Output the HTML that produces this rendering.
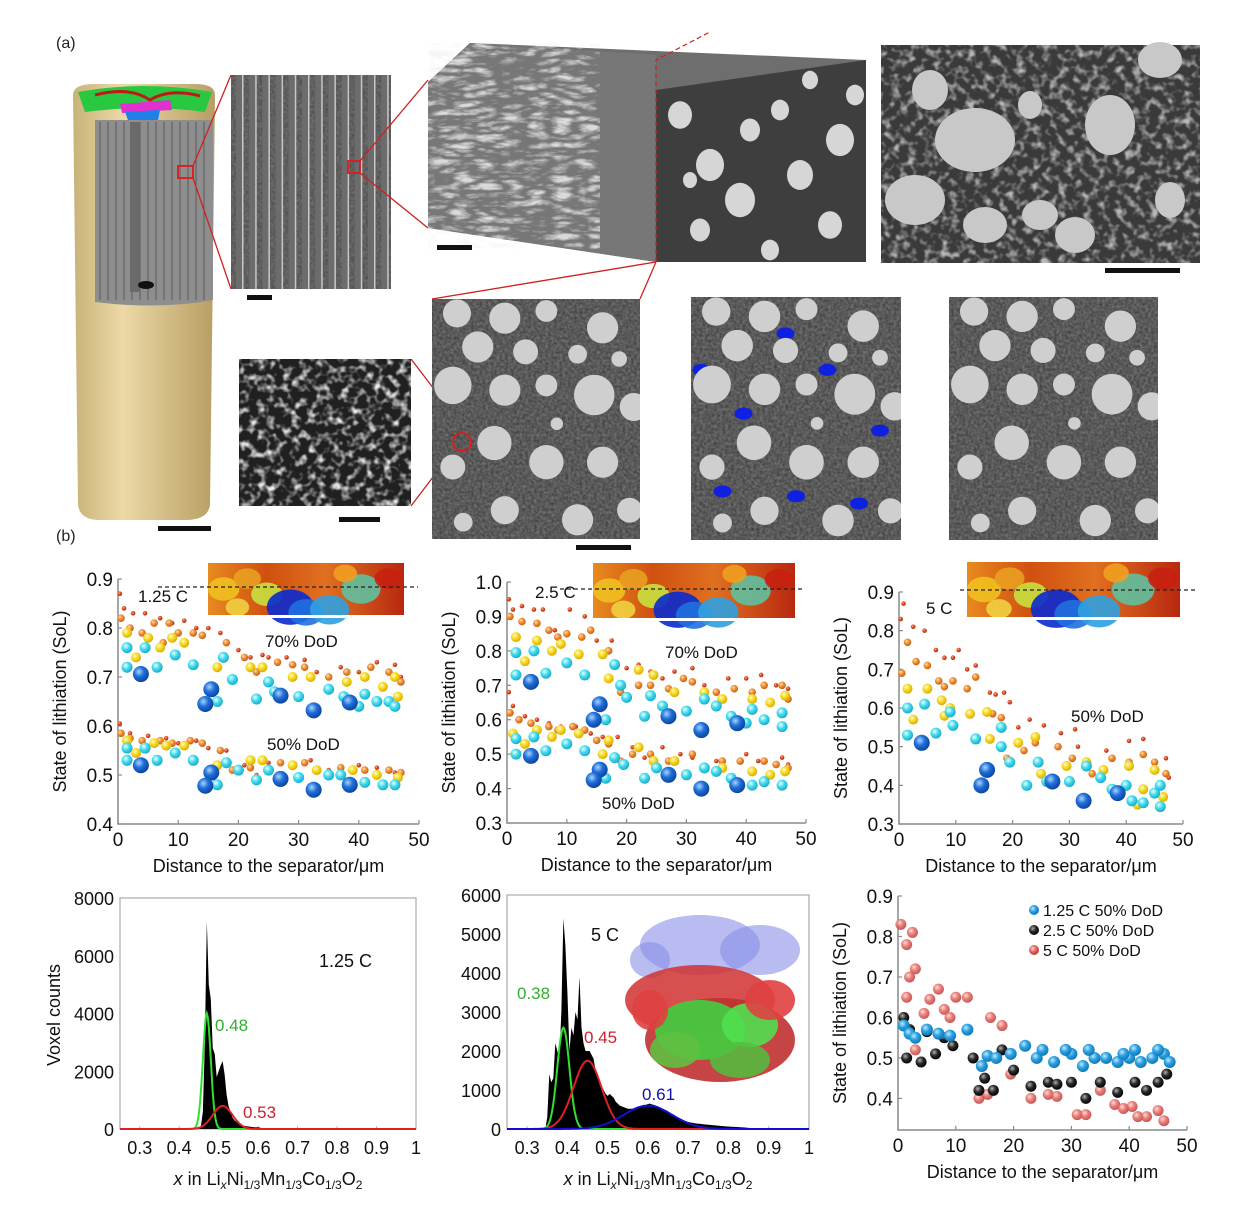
<!DOCTYPE html>
<html><head><meta charset="utf-8">
<style>
html,body{margin:0;padding:0;background:#fff;}
svg{display:block;font-family:"Liberation Sans",Arial,sans-serif;}
</style></head>
<body>
<svg id="fig" width="1237" height="1229" viewBox="0 0 1237 1229" xmlns="http://www.w3.org/2000/svg">
<defs>
  <filter id="noiseF" x="0" y="0" width="100%" height="100%">
    <feTurbulence type="fractalNoise" baseFrequency="0.35" numOctaves="2" seed="3"/>
    <feColorMatrix type="matrix" values="0 0 0 0 0.35  0 0 0 0 0.35  0 0 0 0 0.35  1.2 0 0 0 -0.1"/>
  </filter>
  <filter id="poreF" x="0" y="0" width="100%" height="100%">
    <feTurbulence type="fractalNoise" baseFrequency="0.12" numOctaves="2" seed="7"/>
    <feColorMatrix type="matrix" values="0 0 0 0 0.85  0 0 0 0 0.85  0 0 0 0 0.85  3 0 0 0 -1.4"/>
  </filter>
  <filter id="fiberF" x="0" y="0" width="100%" height="100%">
    <feTurbulence type="turbulence" baseFrequency="0.04 0.12" numOctaves="3" seed="11"/>
    <feColorMatrix type="matrix" values="0 0 0 0 0.9  0 0 0 0 0.9  0 0 0 0 0.9  2.2 0 0 0 -0.5"/>
  </filter>
  <linearGradient id="tan" x1="0" x2="1" y1="0" y2="0">
    <stop offset="0" stop-color="#c9b27a"/><stop offset="0.35" stop-color="#ecd9a6"/><stop offset="1" stop-color="#b79e63"/>
  </linearGradient>
  <linearGradient id="heat" x1="0" x2="1">
    <stop offset="0" stop-color="#e88a20"/><stop offset="0.3" stop-color="#d05010"/><stop offset="0.6" stop-color="#e07020"/><stop offset="1" stop-color="#b82810"/>
  </linearGradient>
</defs>
</svg>
<script>
// ---------------- chart data ----------------
const c1aBlue=[[3.8,0.706],[15.5,0.675],[14.5,0.645],[27,0.662],[32.5,0.632],[38.5,0.648]];
const c1aCyan=[[1.5,0.76],[1.5,0.72],[4.5,0.76],[6.5,0.72],[9.5,0.745],[12.5,0.725],[16.5,0.65],[17.5,0.74],[19,0.695],[23,0.655],[25,0.69],[26,0.67],[30,0.66],[35,0.675],[37.5,0.66],[40,0.64],[41,0.665],[43,0.65],[45,0.65],[46,0.64]];
const c1aYellow=[[1.5,0.79],[3,0.74],[5,0.78],[7,0.76],[9,0.78],[11,0.77],[16.5,0.72],[22,0.72],[24,0.72],[29,0.70],[32,0.70],[38,0.69],[41,0.70],[44,0.68],[46.5,0.66],[46,0.70]];
const c1aOrange=[[0.5,0.82],[2,0.80],[4,0.79],[6,0.81],[7.5,0.77],[8.5,0.81],[10,0.79],[12.5,0.79],[14,0.785],[18,0.77],[21,0.74],[23,0.71],[26.5,0.73],[29,0.725],[31,0.72],[35,0.70],[38,0.71],[42,0.72],[45,0.71],[47,0.69]];
const c1aRed=[[0.3,0.87],[1,0.84],[2.5,0.83],[4.5,0.83],[7,0.82],[9,0.81],[11,0.815],[13,0.80],[15,0.80],[17,0.79],[20,0.755],[22,0.74],[24,0.745],[25,0.74],[28,0.74],[31,0.735],[33,0.71],[37,0.72],[40,0.71],[43,0.73],[46,0.725],[47,0.70]];
const c1bBlue=[[3.8,0.52],[15.5,0.505],[14.5,0.478],[27,0.492],[32.5,0.47],[38.5,0.48]];
const c1bCyan=[[1.5,0.53],[1.5,0.555],[4.5,0.555],[6.5,0.53],[9.5,0.545],[12.5,0.53],[16.5,0.48],[18,0.525],[20,0.51],[23,0.49],[25,0.51],[30,0.495],[35,0.50],[37,0.50],[41,0.485],[44,0.48],[46,0.48]];
const c1bYellow=[[1.5,0.57],[3,0.545],[6,0.565],[8,0.56],[11,0.56],[16.5,0.52],[22,0.53],[24,0.53],[29,0.52],[33,0.51],[39,0.51],[43,0.50],[46.5,0.495]];
const c1bOrange=[[0.5,0.585],[2,0.575],[4,0.57],[7,0.57],[9,0.565],[12,0.57],[14,0.565],[17,0.55],[19,0.51],[22,0.515],[27,0.525],[31,0.525],[37,0.515],[41,0.51],[45,0.51],[47,0.505]];
const c1bRed=[[0.3,0.605],[2,0.585],[5,0.58],[8,0.575],[10,0.565],[13,0.57],[15,0.555],[18,0.55],[21,0.52],[23,0.50],[25,0.525],[29,0.525],[32,0.53],[35,0.51],[40,0.52],[43,0.515],[46,0.505]];
const c2aBlue=[[4,0.71],[15.5,0.645],[14.5,0.60],[27,0.61],[32.5,0.57],[38.5,0.59]];
const c2aCyan=[[1.5,0.795],[1.5,0.73],[4.5,0.80],[6.5,0.735],[10,0.765],[13,0.73],[16.5,0.60],[18,0.76],[19,0.70],[20,0.665],[23,0.61],[24,0.67],[26,0.64],[30,0.625],[33,0.66],[35,0.64],[37.5,0.61],[40,0.59],[41,0.63],[43,0.60],[46,0.58],[46,0.62]];
const c2aYellow=[[1.5,0.84],[3,0.77],[5,0.83],[7.5,0.80],[9,0.82],[12,0.79],[16,0.79],[17,0.72],[22,0.745],[24.5,0.73],[28,0.68],[33,0.68],[36,0.66],[41,0.66],[44,0.65],[46.5,0.67]];
const c2aOrange=[[0.5,0.90],[2.5,0.885],[5,0.88],[7,0.86],[8.5,0.84],[10,0.85],[12.5,0.84],[14,0.86],[17,0.80],[19,0.68],[22,0.70],[24,0.70],[27,0.69],[29.5,0.72],[31,0.71],[35,0.68],[38,0.69],[41,0.68],[43,0.70],[46,0.70],[47,0.66]];
const c2aRed=[[0.3,0.95],[1,0.92],[2.5,0.93],[4.5,0.92],[6,0.92],[8,0.86],[10.5,0.92],[13,0.90],[15,0.83],[17.5,0.83],[20,0.75],[22,0.76],[24,0.74],[26,0.72],[28,0.74],[31,0.75],[33,0.70],[37,0.72],[40,0.72],[42.5,0.73],[45,0.70],[47,0.69]];
const c2bBlue=[[4,0.495],[15.5,0.455],[14.5,0.425],[27,0.44],[32.5,0.40],[38.5,0.41]];
const c2bCyan=[[1.5,0.50],[1.5,0.545],[4.5,0.55],[6.5,0.51],[10,0.53],[13,0.51],[16.5,0.43],[18,0.49],[19.5,0.47],[23,0.43],[25,0.46],[30,0.44],[33,0.46],[35,0.45],[37.5,0.43],[41,0.41],[43,0.42],[46,0.41]];
const c2bYellow=[[1,0.56],[3,0.53],[5,0.57],[7.5,0.55],[9,0.57],[12,0.56],[16,0.50],[17,0.54],[22,0.52],[24.5,0.48],[28,0.48],[33,0.46],[36,0.46],[41,0.45],[44,0.44],[46.5,0.45]];
const c2bOrange=[[0.5,0.62],[2,0.60],[4,0.59],[7,0.58],[8.5,0.57],[11,0.58],[13,0.57],[15,0.54],[17,0.53],[19,0.48],[21,0.50],[24,0.50],[27,0.48],[31,0.50],[36,0.48],[39,0.48],[43,0.48],[45,0.47],[47,0.46]];
const c2bRed=[[0.3,0.68],[1,0.64],[3,0.61],[5,0.60],[7,0.59],[9,0.58],[11.5,0.58],[14,0.56],[16,0.55],[18.5,0.55],[21,0.52],[23,0.49],[26,0.52],[29,0.50],[31,0.49],[35,0.48],[40,0.50],[42,0.48],[46,0.49],[47,0.47]];
const c3Blue=[[4,0.51],[15.5,0.44],[14.5,0.40],[27,0.41],[32.5,0.36],[38.5,0.38]];
const c3Cyan=[[1.5,0.60],[1.5,0.53],[4.5,0.61],[6.5,0.535],[9,0.59],[9.5,0.555],[13.5,0.52],[18,0.55],[18,0.50],[19.5,0.46],[22.5,0.40],[24.5,0.46],[26,0.41],[30,0.41],[33,0.45],[35.5,0.42],[37.5,0.39],[40,0.40],[41,0.36],[43,0.355],[45,0.38],[46,0.345],[46,0.40]];
const c3Yellow=[[1.5,0.65],[2.5,0.57],[5,0.65],[7.5,0.62],[8,0.58],[9,0.60],[12.5,0.585],[15.5,0.59],[16,0.52],[21,0.51],[24,0.525],[25,0.43],[29.5,0.45],[33,0.46],[36,0.44],[39,0.38],[40.5,0.45],[42,0.35],[43,0.39],[45,0.44],[46.5,0.37]];
const c3Orange=[[0.5,0.69],[1.5,0.77],[3,0.72],[5,0.71],[7,0.67],[8,0.655],[9.5,0.67],[12,0.65],[13.5,0.68],[16.5,0.585],[18,0.575],[19,0.47],[22,0.49],[24,0.51],[28,0.50],[30.5,0.47],[34,0.43],[37.5,0.47],[40.5,0.46],[43,0.48],[45,0.46],[47,0.43],[46.5,0.37]];
const c3Red=[[0.3,0.83],[0.8,0.87],[2.5,0.81],[4.5,0.80],[6.5,0.75],[8,0.73],[9.5,0.73],[10.5,0.75],[12,0.70],[13.5,0.71],[16,0.64],[17,0.635],[18.5,0.64],[19.5,0.615],[21,0.55],[23,0.57],[25.5,0.555],[28.5,0.535],[31,0.545],[31.5,0.50],[36.5,0.49],[40.5,0.515],[43,0.52],[47,0.47],[47.5,0.42]];
const c6Blue=[[1,0.58],[2,0.56],[3,0.55],[5,0.57],[7,0.56],[9,0.555],[12,0.57],[14.5,0.48],[15.5,0.505],[17,0.50],[19.5,0.51],[22,0.53],[24,0.50],[27,0.49],[30,0.51],[32,0.48],[34,0.50],[36,0.50],[38,0.49],[40,0.50],[42,0.49],[44,0.50],[46,0.51],[47,0.49],[25,0.52],[29,0.52],[33,0.52],[39,0.51],[45,0.52],[41,0.52]];
const c6Black=[[1,0.60],[1.5,0.50],[2,0.57],[4,0.49],[5,0.565],[6.5,0.51],[8,0.55],[9.5,0.53],[13,0.50],[14,0.42],[15,0.45],[16.5,0.42],[18,0.52],[20,0.47],[23,0.43],[26,0.44],[27.5,0.435],[30,0.44],[32.5,0.40],[35,0.44],[38,0.415],[41,0.44],[43,0.42],[45,0.44],[46.5,0.46]];
const c6Red=[[0.5,0.83],[1.5,0.78],[2.5,0.81],[3,0.72],[4.5,0.61],[5.5,0.645],[7,0.67],[8,0.62],[9,0.60],[10,0.65],[12,0.65],[14,0.40],[15.5,0.41],[16,0.60],[18,0.58],[19.5,0.46],[23,0.40],[26,0.41],[27.5,0.405],[31,0.36],[32.5,0.36],[35,0.42],[37.5,0.385],[39,0.375],[40.5,0.38],[41.5,0.355],[43,0.355],[45,0.37],[46,0.345],[1.5,0.65],[3,0.52],[2,0.70]];
const distTicks=[0,10,20,30,40,50];
const sol1Ticks=[0.4,0.5,0.6,0.7,0.8,0.9];
const sol2Ticks=[0.3,0.4,0.5,0.6,0.7,0.8,0.9,1.0];
const sol3Ticks=[0.3,0.4,0.5,0.6,0.7,0.8,0.9];
const sol6Ticks=[0.4,0.5,0.6,0.7,0.8,0.9];
const h4X=[0.45,0.455,0.46,0.465,0.47,0.475,0.48,0.485,0.49,0.495,0.50,0.505,0.51,0.515,0.52,0.525,0.53,0.535,0.54,0.545,0.55,0.555,0.56,0.57,0.58,0.59,0.60,0.61,0.62];
const h4Y=[0,100,600,3000,7200,5000,4500,2800,2600,1800,2000,2200,2350,1900,1200,800,600,400,300,250,200,150,120,100,80,60,60,30,0];
const fit4Center=[0.47,0.51];
const fit4Amp=[4000,800];
const fit4Sigma=[0.01,0.025];
const h5X=[0.345,0.35,0.355,0.36,0.365,0.37,0.375,0.38,0.385,0.39,0.395,0.40,0.405,0.41,0.415,0.42,0.425,0.43,0.435,0.44,0.445,0.45,0.455,0.46,0.465,0.47,0.475,0.48,0.485,0.49,0.495,0.50,0.505,0.51,0.515,0.52,0.525,0.53,0.535,0.54,0.545,0.55,0.555,0.56,0.565,0.57,0.575,0.58,0.585,0.59,0.595,0.60,0.605,0.61,0.615,0.62,0.625,0.63,0.635,0.64,0.645,0.65,0.655,0.66,0.665,0.67,0.675,0.68,0.685,0.69,0.695,0.70,0.71,0.72,0.73,0.74,0.75,0.76,0.77,0.78,0.79,0.80,0.82,0.84,0.86,0.87];
const h5Y=[0,300,1400,1200,1300,2200,2000,1800,3000,5400,4700,3500,2000,2600,2400,3000,2800,3900,2600,2200,2000,2000,2000,1900,1800,1500,1300,1200,1100,1000,900,850,900,850,800,700,650,600,580,560,540,520,520,520,530,540,550,560,580,600,620,640,650,630,620,600,580,550,520,480,440,400,370,340,310,290,270,250,230,210,200,180,160,140,130,120,110,100,90,80,70,60,50,40,20,0];
const fit5Center=[0.39,0.45,0.60];
const fit5Amp=[2600,1750,600];
const fit5Sigma=[0.015,0.035,0.06];
const xLiTicks=[0.3,0.4,0.5,0.6,0.7,0.8,0.9,1];
const count4Ticks=[0,2000,4000,6000,8000];
const count5Ticks=[0,1000,2000,3000,4000,5000,6000];

// ---------------- helpers ----------------
const NS="http://www.w3.org/2000/svg";
const svg=document.getElementById('fig');
const defs=svg.querySelector('defs');
function mk(tag,attrs,parent){const e=document.createElementNS(NS,tag);for(const k in attrs)e.setAttribute(k,attrs[k]);(parent||svg).appendChild(e);return e;}
function txt(s,x,y,size,attrs,parent){const t=mk('text',Object.assign({x:x,y:y,'font-size':size,fill:'#111'},attrs||{}),parent);t.textContent=s;return t;}

const tones={blue:['#a8d4ff','#1f6fd8','#0a3f9a'],cyan:['#f0ffff','#45dcee','#16a6c6'],yellow:['#fffbd0','#f6da22','#d8a600'],orange:['#ffe0b0','#ef8e32','#c45a12'],red:['#ffb090','#de4a20','#a82a10'],
 c6blue:['#c4e8ff','#2aa2e2','#1070b0'],c6black:['#b0b0b0','#2a2a2a','#000'],c6red:['#ffd6cc','#e46a64','#b83434']};
for(const k in tones){const g=mk('radialGradient',{id:'g-'+k,cx:'0.38',cy:'0.35',r:'0.7'},defs);
 mk('stop',{offset:'0','stop-color':tones[k][0]},g);mk('stop',{offset:'0.45','stop-color':tones[k][1]},g);mk('stop',{offset:'1','stop-color':tones[k][2]},g);}

function scatterChart(o){
  const g=mk('g',{});
  
  
  const sx=v=>o.x0+(v-o.xd[0])/(o.xd[1]-o.xd[0])*(o.x1-o.x0);
  const sy=v=>o.y0+(v-o.yd[0])/(o.yd[1]-o.yd[0])*(o.y1-o.y0);
  const ax=mk('path',{d:`M${o.x0} ${o.y1} V${o.y0} H${o.x1}`,stroke:'#8a8a8a','stroke-width':1.5,fill:'none'},g);
  
  
  o.xt.forEach(v=>{const X=sx(v);mk('line',{x1:X,x2:X,y1:o.y0,y2:o.y0-4,stroke:'#8a8a8a','stroke-width':1.2},g);
    const t=txt(String(v),X,o.y0+22,19,{'text-anchor':'middle'},g);
    
    });
  o.yt.forEach(v=>{const Y=sy(v);mk('line',{x1:o.x0,x2:o.x0+4,y1:Y,y2:Y,stroke:'#8a8a8a','stroke-width':1.2},g);
    const t=txt(v.toFixed(1),o.x0-5,Y+7,19,{'text-anchor':'end'},g);
    
    });
  const xt=txt('Distance to the separator/μm',(o.x0+o.x1)/2,o.y0+48,18,{'text-anchor':'middle'},g);
  
  
  const yc=(o.y0+o.y1)/2;
  const yt=txt('State of lithiation (SoL)',0,0,18,{'text-anchor':'middle',transform:`translate(${o.x0-52},${yc}) rotate(-90)`},g);
  
  
  o.series.forEach(s=>{
    s.data.forEach(p=>{const c=mk('circle',{cx:sx(p[0]),cy:sy(p[1]),r:s.r,fill:'url(#g-'+s.tone+')','fill-opacity':s.op||1},g);
      
      });
  });
  return {g,sx,sy};
}
function heatInset(x,y,w,h,dashY,dashX0,dashX1,name){
  const g=mk('g',{});
  
  
  mk('rect',{x:x,y:y,width:w,height:h,fill:'url(#heat)'},g);
  const blobs=[[0.08,0.5,0.08,'#f0c020'],[0.2,0.3,0.07,'#e8a020'],[0.3,0.6,0.08,'#c8e040'],[0.42,0.85,0.12,'#0a2ad0'],[0.5,0.95,0.09,'#2070e0'],[0.62,0.9,0.1,'#30a0e0'],[0.78,0.5,0.1,'#60c0a0'],[0.7,0.2,0.06,'#f0a020'],[0.92,0.3,0.07,'#c82010'],[0.15,0.85,0.06,'#f0d040']];
  blobs.forEach(b=>mk('ellipse',{cx:x+b[0]*w,cy:y+b[1]*h,rx:b[2]*w,ry:b[2]*w*0.75,fill:b[3],opacity:0.9},g));
  mk('rect',{x:x,y:y+h,width:w,height:3,fill:'#fff'},g);
  mk('line',{x1:dashX0,x2:dashX1,y1:dashY,y2:dashY,stroke:'#222','stroke-width':1.2,'stroke-dasharray':'4 3'},g);
}

// ---------------- panel (a) imagery ----------------
(function(){
  txt('(a)',56,48,16,{fill:'#222'});
  txt('(b)',56,541,16,{fill:'#222'});
  const bat=mk('g',{});
  
  
  mk('path',{d:'M73 95 Q73 84 95 84 L195 84 Q215 84 215 95 L210 505 Q208 520 185 520 L100 520 Q80 520 78 505 Z',fill:'url(#tan)'},bat);
  mk('path',{d:'M95 120 L213 120 L213 300 Q160 310 95 302 Z',fill:'#8e8e8e'},bat);
  for(let i=0;i<14;i++)mk('line',{x1:100+i*8,x2:100+i*8,y1:122,y2:300,stroke:'#5a5a5a','stroke-width':1},bat);
  mk('rect',{x:130,y:122,width:10,height:170,fill:'#6a6a6a'},bat);
  mk('ellipse',{cx:146,cy:285,rx:8,ry:4,fill:'#111'},bat);
  mk('path',{d:'M78 92 Q145 80 212 92 L205 112 Q145 104 85 112 Z',fill:'#28c840'},bat);
  mk('path',{d:'M120 104 L170 100 L172 110 L122 113 Z',fill:'#e030d0'},bat);
  mk('path',{d:'M125 112 L160 110 L158 120 L128 120 Z',fill:'#2080e8'},bat);
  mk('path',{d:'M95 95 Q130 86 150 100 Q170 88 200 96',stroke:'#c01818','stroke-width':3,fill:'none'},bat);
  mk('rect',{x:178,y:166,width:15,height:12,fill:'none',stroke:'#e01818','stroke-width':1.8},bat);
  mk('rect',{x:158,y:526,width:53,height:5,fill:'#111'},bat);
  const st=mk('g',{});
  
  
  mk('rect',{x:231,y:75,width:160,height:214,fill:'#4a4a4a'},st);
  mk('rect',{x:231,y:75,width:160,height:214,filter:'url(#noiseF)',opacity:0.5},st);
  for(let i=0;i<12;i++){mk('rect',{x:236+i*13.2,y:75,width:6,height:214,fill:'#6c6c6c'},st);mk('rect',{x:242+i*13.2,y:75,width:1.5,height:214,fill:'#c8c8c8'},st);}
  mk('rect',{x:348,y:161,width:12,height:12,fill:'none',stroke:'#e01818','stroke-width':1.8},st);
  mk('rect',{x:247,y:295,width:25,height:5,fill:'#111'},st);
  [[193,166,231,75],[193,178,231,289],[360,161,428,80],[360,173,428,228],[656,262,432,299],[656,262,640,299],[470,436,411,359],[455,448,411,506]].forEach(l=>{
    const e=mk('line',{x1:l[0],y1:l[1],x2:l[2],y2:l[3],stroke:'#d02020','stroke-width':1.3});
    
    });
  const bx=mk('g',{});
  
  
  mk('path',{d:'M428 82 L470 43 L866 60 L866 262 L656 262 L428 228 Z',fill:'#6e6e6e'},bx);
  mk('path',{d:'M428 82 L470 43 L656 55 L656 262 L428 228 Z',fill:'#777'},bx);
  mk('path',{d:'M428 82 L470 43 L600 50 L600 250 L428 228 Z',filter:'url(#fiberF)',opacity:0.8},bx);
  mk('path',{d:'M656 90 L866 60 L866 262 L656 262 Z',fill:'#3e3e3e'},bx);
  const bc=[[680,115,12],[710,165,14],[750,130,10],[740,200,15],[780,110,9],[800,175,13],[840,140,14],[830,225,12],[700,230,10],[770,250,9],[855,95,9],[690,180,7],[810,80,8]];
  bc.forEach(c=>mk('ellipse',{cx:c[0],cy:c[1],rx:c[2],ry:c[2]*1.15,fill:'#d6d6d6'},bx));
  mk('path',{d:'M656 262 L656 60 L710 32',stroke:'#d02020','stroke-width':1.2,'stroke-dasharray':'5 3',fill:'none'},bx);
  mk('rect',{x:437,y:245,width:35,height:5,fill:'#111'},bx);
  const sem=mk('g',{});
  
  
  mk('rect',{x:881,y:45,width:319,height:218,fill:'#3a3a3a'},sem);
  mk('rect',{x:881,y:45,width:319,height:218,filter:'url(#poreF)',opacity:0.7},sem);
  [[975,140,40,32],[1110,125,25,30],[915,200,30,25],[985,225,22,18],[1075,235,20,18],[1160,60,22,18],[930,90,18,20],[1040,215,18,15],[1170,200,15,18],[1030,105,12,14]].forEach(c=>mk('ellipse',{cx:c[0],cy:c[1],rx:c[2],ry:c[3],fill:'#c8c8c8'},sem));
  mk('rect',{x:1105,y:268,width:75,height:5,fill:'#111'},sem);
  const nz=mk('g',{});
  
  
  mk('rect',{x:239,y:359,width:172,height:147,fill:'#202020'},nz);
  mk('rect',{x:239,y:359,width:172,height:147,filter:'url(#poreF)'},nz);
  mk('rect',{x:339,y:517,width:41,height:5,fill:'#111'},nz);
  const parts=[[0.12,0.06,0.09],[0.35,0.08,0.1],[0.55,0.05,0.07],[0.82,0.12,0.1],[0.22,0.2,0.1],[0.45,0.22,0.08],[0.7,0.23,0.06],[0.1,0.36,0.12],[0.35,0.38,0.1],[0.55,0.36,0.07],[0.78,0.4,0.13],[0.97,0.45,0.09],[0.6,0.52,0.04],[0.3,0.6,0.11],[0.55,0.68,0.11],[0.82,0.68,0.1],[0.1,0.7,0.08],[0.35,0.88,0.09],[0.7,0.92,0.1],[0.15,0.93,0.06],[0.95,0.88,0.08],[0.9,0.25,0.05]];
  let cid=0;
  function partImg(x,y,w,h,name,blue){
    const g=mk('g',{});
    
    
    const cp=mk('clipPath',{id:'pclip'+(++cid)},defs);
    mk('rect',{x:x,y:y,width:w,height:h},cp);
    g.setAttribute('clip-path','url(#pclip'+cid+')');
    mk('rect',{x:x,y:y,width:w,height:h,fill:'#3c3c3c'},g);
    mk('rect',{x:x,y:y,width:w,height:h,filter:'url(#noiseF)',opacity:0.6},g);
    if(blue){[[0.05,0.3],[0.25,0.48],[0.5,0.82],[0.65,0.3],[0.9,0.55],[0.15,0.8],[0.45,0.15],[0.8,0.85]].forEach(b=>mk('ellipse',{cx:x+b[0]*w,cy:y+b[1]*h,rx:9,ry:6,fill:'#1020e0'},g));}
    parts.forEach(p=>mk('circle',{cx:x+p[0]*w,cy:y+p[1]*h,r:p[2]*w*0.75,fill:'#cfcfcf'},g));
    return g;
  }
  partImg(432,299,208,240,'particle-image-raw',false);
  mk('circle',{cx:462,cy:442,r:9,fill:'none',stroke:'#e01818','stroke-width':1.8});
  mk('rect',{x:576,y:545,width:55,height:5,fill:'#111'});
  partImg(691,297,210,243,'particle-image-segmented',true);
  partImg(949,297,209,243,'particle-image-carbon',false);
})();

// ---------------- charts (b) ----------------
heatInset(208,563,196,52,587,158,418,'sol-map-inset-1.25C');
scatterChart({name:'sol-chart-1.25C',x0:118,x1:419,y0:824,y1:579,xd:[0,50],yd:[0.4,0.9],xt:distTicks,yt:sol1Ticks,series:[
 {name:'red',tone:'red',r:2.3,data:c1aRed},{name:'orange',tone:'orange',r:3.8,data:c1aOrange},{name:'yellow',tone:'yellow',r:5,data:c1aYellow},{name:'cyan',tone:'cyan',r:5.5,data:c1aCyan},{name:'blue',tone:'blue',r:8,data:c1aBlue},
 {name:'red',tone:'red',r:2.3,data:c1bRed},{name:'orange',tone:'orange',r:3.8,data:c1bOrange},{name:'yellow',tone:'yellow',r:5,data:c1bYellow},{name:'cyan',tone:'cyan',r:5.5,data:c1bCyan},{name:'blue',tone:'blue',r:8,data:c1bBlue}]});
txt('1.25 C',138,602,17);
txt('70% DoD',265,647,17);
txt('50% DoD',267,750,17);

heatInset(593,563,202,55,589,560,805,'sol-map-inset-2.5C');
scatterChart({name:'sol-chart-2.5C',x0:507,x1:806,y0:823,y1:582,xd:[0,50],yd:[0.3,1.0],xt:distTicks,yt:sol2Ticks,series:[
 {name:'red',tone:'red',r:2.3,data:c2aRed},{name:'orange',tone:'orange',r:3.8,data:c2aOrange},{name:'yellow',tone:'yellow',r:5,data:c2aYellow},{name:'cyan',tone:'cyan',r:5.5,data:c2aCyan},{name:'blue',tone:'blue',r:8,data:c2aBlue},
 {name:'red',tone:'red',r:2.3,data:c2bRed},{name:'orange',tone:'orange',r:3.8,data:c2bOrange},{name:'yellow',tone:'yellow',r:5,data:c2bYellow},{name:'cyan',tone:'cyan',r:5.5,data:c2bCyan},{name:'blue',tone:'blue',r:8,data:c2bBlue}]});
txt('2.5 C',535,598,17);
txt('70% DoD',665,658,17);
txt('50% DoD',602,809,17);

heatInset(967,562,213,55,590,960,1195,'sol-map-inset-5C');
scatterChart({name:'sol-chart-5C',x0:899,x1:1183,y0:824,y1:592,xd:[0,50],yd:[0.3,0.9],xt:distTicks,yt:sol3Ticks,series:[
 {name:'red',tone:'red',r:2.3,data:c3Red},{name:'orange',tone:'orange',r:3.8,data:c3Orange},{name:'yellow',tone:'yellow',r:5,data:c3Yellow},{name:'cyan',tone:'cyan',r:5.5,data:c3Cyan},{name:'blue',tone:'blue',r:8,data:c3Blue}]});
txt('5 C',926,614,17);
txt('50% DoD',1071,722,17);

scatterChart({name:'sol-comparison-chart',x0:898,x1:1187,y0:1130,y1:896,xd:[0,50],yd:[0.322,0.9],xt:distTicks,yt:sol6Ticks,series:[
 {name:'red-5C',tone:'c6red',r:5.5,data:c6Red,op:0.85},{name:'black-2.5C',tone:'c6black',r:5.5,data:c6Black},{name:'blue-1.25C',tone:'c6blue',r:6,data:c6Blue}]});
[['c6blue','1.25 C 50% DoD',910],['c6black','2.5 C 50% DoD',930],['c6red','5 C 50% DoD',950]].forEach(l=>{
  const g=mk('g',{});
  
  
  mk('circle',{cx:1034,cy:l[2],r:5,fill:'url(#g-'+l[0]+')'},g);
  txt(l[1],1043,l[2]+6,16,{},g);
});

function histChart(o){
  const g=mk('g',{});
  
  
  const sx=v=>o.x0+(v-0.25)/(0.75)*(o.x1-o.x0);
  const sy=v=>o.y0-(v/o.ymax)*(o.y0-o.y1);
  mk('rect',{x:o.x0,y:o.y1,width:o.x1-o.x0,height:o.y0-o.y1,fill:'none',stroke:'#b0b0b0','stroke-width':1.3},g);
  o.yt.forEach(v=>{const t=txt(String(v),o.x0-6,sy(v)+7,18,{'text-anchor':'end'},g);
    
    });
  o.xt.forEach(v=>{const X=sx(v);mk('line',{x1:X,x2:X,y1:o.y0,y2:o.y0-3,stroke:'#b0b0b0'},g);
    const t=txt(String(v),X,o.y0+25,18,{'text-anchor':'middle'},g);
    
    });
  let d=`M${sx(o.hx[0])} ${o.y0}`;
  o.hx.forEach((x,i)=>{d+=` L${sx(x)} ${sy(o.hy[i])}`;});
  d+=` L${sx(o.hx[o.hx.length-1])} ${o.y0} Z`;
  const h=mk('path',{d:d,fill:'#000'},g);
  
  
  o.fits.forEach(f=>{
    let p='';
    for(let x=0.25;x<=1.0001;x+=0.0025){const v=f.a*Math.exp(-Math.pow(x-f.c,2)/(2*f.s*f.s));p+=(p?' L':'M')+sx(x).toFixed(1)+' '+sy(v).toFixed(1);}
    const e=mk('path',{d:p,fill:'none',stroke:f.col,'stroke-width':2},g);
    
    
  });
  const xt=mk('text',{x:(o.x0+o.x1)/2,y:o.y0+56,'font-size':18,'text-anchor':'middle',fill:'#111'},g);
  
  
  xt.innerHTML='<tspan font-style="italic">x</tspan> in Li<tspan font-size="12" dy="4" font-style="italic">x</tspan><tspan dy="-4">Ni</tspan><tspan font-size="12" dy="4">1/3</tspan><tspan dy="-4">Mn</tspan><tspan font-size="12" dy="4">1/3</tspan><tspan dy="-4">Co</tspan><tspan font-size="12" dy="4">1/3</tspan><tspan dy="-4">O</tspan><tspan font-size="12" dy="4">2</tspan>';
  return {sx,sy};
}
histChart({name:'histogram-1.25C',x0:120,x1:416,y0:1129,y1:898,ymax:8000,yt:count4Ticks,xt:xLiTicks,hx:h4X,hy:h4Y,
  fits:[{c:fit4Center[0],a:fit4Amp[0],s:fit4Sigma[0],col:'#30e030'},{c:fit4Center[1],a:fit4Amp[1],s:fit4Sigma[1],col:'#e02020'}]});
const yl=txt('Voxel counts',0,0,18,{'text-anchor':'middle',transform:'translate(60,1015) rotate(-90)'});


txt('1.25 C',319,967,18);
txt('0.48',215,1031,17,{fill:'#30b030'});
txt('0.53',243,1118,17,{fill:'#d02030'});

(function(){
  const g=mk('g',{});
  
  
  const cl=[[700,945,60,30,'#8890e8',0.6],[760,950,40,25,'#8890e8',0.6],[650,960,20,18,'#8890e8',0.6],[700,1000,75,35,'#d03030',0.85],[720,1040,75,42,'#c03030',0.9],[700,1030,45,30,'#40d040',0.9],[750,1025,28,22,'#50e050',0.9],[675,1050,25,18,'#60c040',0.9],[740,1060,30,18,'#50c040',0.85],[770,1000,25,20,'#e04040',0.9],[650,1010,18,20,'#e04040',0.9]];
  cl.forEach(c=>mk('ellipse',{cx:c[0],cy:c[1],rx:c[2],ry:c[3],fill:c[4],opacity:c[5]},g));
})();
histChart({name:'histogram-5C',x0:507,x1:809,y0:1129,y1:895,ymax:6000,yt:count5Ticks,xt:xLiTicks,hx:h5X,hy:h5Y,
  fits:[{c:fit5Center[0],a:fit5Amp[0],s:fit5Sigma[0],col:'#30e030'},{c:fit5Center[1],a:fit5Amp[1],s:fit5Sigma[1],col:'#e02020'},{c:fit5Center[2],a:fit5Amp[2],s:fit5Sigma[2],col:'#1010d0'}]});
txt('5 C',591,941,18);
txt('0.38',517,999,17,{fill:'#30b030'});
txt('0.45',584,1043,17,{fill:'#d02030'});
txt('0.61',642,1100,17,{fill:'#1010b0'});
</script>
</body></html>
